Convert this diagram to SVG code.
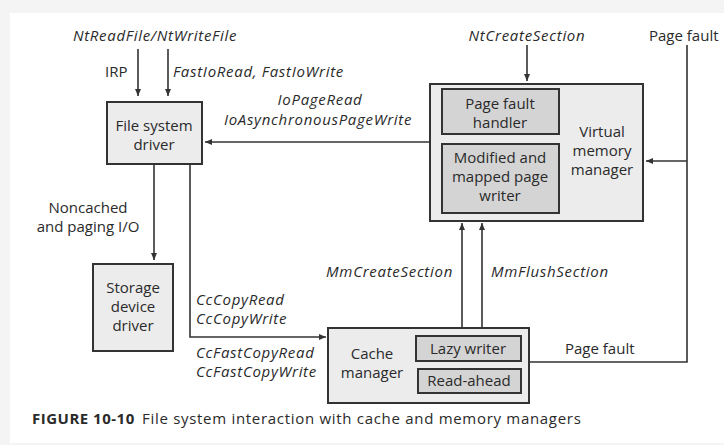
<svg xmlns="http://www.w3.org/2000/svg" width="724" height="445" viewBox="0 0 724 445">
<style>
text{font-family:"Open Sans","Noto Sans","Liberation Sans",sans-serif;font-size:15px;fill:#2a2a2a}
.i{font-style:italic;letter-spacing:0.7px}
.c{text-anchor:middle}
.r{text-anchor:end}
.box{fill:#ececec;stroke:#333;stroke-width:2}
.inner{fill:#d4d4d4;stroke:#333;stroke-width:2}
.ln{fill:none;stroke:#333;stroke-width:1.6}
</style>
<defs>
<marker id="ah" markerWidth="8" markerHeight="8" refX="7" refY="4" orient="auto" markerUnits="userSpaceOnUse">
<path d="M0,1 L7,4 L0,7 Z" fill="#333"/>
</marker>
</defs>
<rect x="0" y="0" width="724" height="445" fill="#f4f4f4"/>
<rect x="10" y="13" width="714" height="430" fill="#ffffff"/>

<g id="connectors">
<path class="ln" d="M138,49 V96" marker-end="url(#ah)"/>
<path class="ln" d="M168,49 V96" marker-end="url(#ah)"/>
<path class="ln" d="M430,142 H205" marker-end="url(#ah)"/>
<path class="ln" d="M154,164 V260" marker-end="url(#ah)"/>
<path class="ln" d="M190,164 V337 H326" marker-end="url(#ah)"/>
<path class="ln" d="M527,45 V81" marker-end="url(#ah)"/>
<path class="ln" d="M462,328 V223" marker-end="url(#ah)"/>
<path class="ln" d="M482,328 V223" marker-end="url(#ah)"/>
<path class="ln" d="M529,362 H687 V45"/>
<path class="ln" d="M687,161 H646" marker-end="url(#ah)"/>
</g>

<g id="labels">
<text class="i c" x="155" y="41">NtReadFile/NtWriteFile</text>
<text x="105" y="77">IRP</text>
<text class="i" x="173" y="77">FastIoRead, FastIoWrite</text>
<text class="i c" x="320" y="105">IoPageRead</text>
<text class="i c" x="318" y="125">IoAsynchronousPageWrite</text>
<text class="c" x="88" y="213">Noncached</text>
<text class="c" x="88" y="232">and paging I/O</text>
<text class="i" x="196" y="305">CcCopyRead</text>
<text class="i" x="196" y="324">CcCopyWrite</text>
<text class="i" x="196" y="358">CcFastCopyRead</text>
<text class="i" x="196" y="377">CcFastCopyWrite</text>
<text class="i c" x="527" y="41">NtCreateSection</text>
<text x="649" y="41">Page fault</text>
<text class="i r" x="453" y="277">MmCreateSection</text>
<text class="i" x="491" y="277">MmFlushSection</text>
<text x="565" y="354">Page fault</text>
</g>

<g id="fs-driver">
<rect class="box" x="107" y="102" width="95" height="62"/>
<text class="c" x="154" y="131">File system</text>
<text class="c" x="154" y="150">driver</text>
</g>

<g id="storage-driver">
<rect class="box" x="93" y="264" width="80" height="87"/>
<text class="c" x="133" y="293">Storage</text>
<text class="c" x="133" y="312">device</text>
<text class="c" x="133" y="331">driver</text>
</g>

<g id="vmm">
<rect class="box" x="430" y="84" width="213" height="137"/>
<text class="c" x="602" y="137">Virtual</text>
<text class="c" x="602" y="156">memory</text>
<text class="c" x="602" y="175">manager</text>
</g>

<g id="page-fault-handler">
<rect class="inner" x="442" y="89" width="117" height="45"/>
<text class="c" x="500" y="109">Page fault</text>
<text class="c" x="500" y="128">handler</text>
</g>

<g id="modified-page-writer">
<rect class="inner" x="442" y="144" width="117" height="69"/>
<text class="c" x="500" y="163">Modified and</text>
<text class="c" x="500" y="182">mapped page</text>
<text class="c" x="500" y="201">writer</text>
</g>

<g id="cache-manager">
<rect class="box" x="328" y="328" width="201" height="75"/>
<text class="c" x="372" y="359">Cache</text>
<text class="c" x="372" y="378">manager</text>
</g>

<g id="lazy-writer">
<rect class="inner" x="416" y="336" width="105" height="25"/>
<text class="c" x="468" y="354">Lazy writer</text>
</g>

<g id="read-ahead">
<rect class="inner" x="418" y="369" width="103" height="24"/>
<text class="c" x="469" y="386">Read-ahead</text>
</g>

<g id="caption">
<text x="32" y="424" letter-spacing="0.5"><tspan font-weight="bold">FIGURE 10-10</tspan><tspan x="142" letter-spacing="0.7">File system interaction with cache and memory managers</tspan></text>
</g>
</svg>
